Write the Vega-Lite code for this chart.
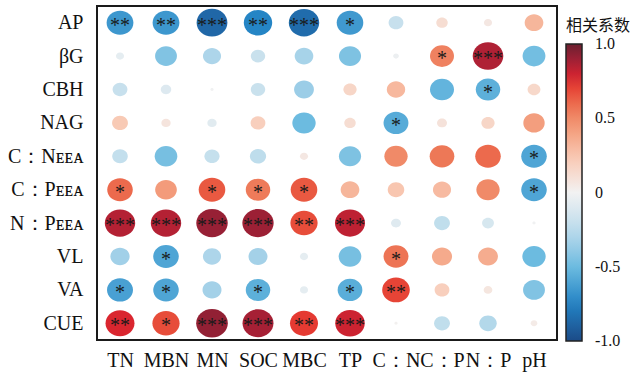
{
  "$schema": "https://vega.github.io/schema/vega-lite/v6.json",
  "width": 460,
  "height": 334,
  "autosize": "none",
  "padding": {"left": 97, "top": 6, "right": 87, "bottom": 34},
  "background": "white",
  "config": {"view": {"stroke": "#1a1a1a", "strokeWidth": 2}, "font": "Liberation Serif"},
  "data": {"values": [
    {"row": "AP", "col": "TN", "r": -0.66, "sig": "**"},
    {"row": "AP", "col": "MBN", "r": -0.66, "sig": "**"},
    {"row": "AP", "col": "MN", "r": -0.87, "sig": "***"},
    {"row": "AP", "col": "SOC", "r": -0.74, "sig": "**"},
    {"row": "AP", "col": "MBC", "r": -0.85, "sig": "***"},
    {"row": "AP", "col": "TP", "r": -0.65, "sig": "*"},
    {"row": "AP", "col": "C：N", "r": -0.2, "sig": ""},
    {"row": "AP", "col": "C：P", "r": 0.12, "sig": ""},
    {"row": "AP", "col": "N：P", "r": 0.06, "sig": ""},
    {"row": "AP", "col": "pH", "r": 0.32, "sig": ""},

    {"row": "βG", "col": "TN", "r": -0.06, "sig": ""},
    {"row": "βG", "col": "MBN", "r": -0.44, "sig": ""},
    {"row": "βG", "col": "MN", "r": -0.3, "sig": ""},
    {"row": "βG", "col": "SOC", "r": -0.19, "sig": ""},
    {"row": "βG", "col": "MBC", "r": -0.32, "sig": ""},
    {"row": "βG", "col": "TP", "r": -0.45, "sig": ""},
    {"row": "βG", "col": "C：N", "r": -0.03, "sig": ""},
    {"row": "βG", "col": "C：P", "r": 0.53, "sig": "*"},
    {"row": "βG", "col": "N：P", "r": 0.86, "sig": "***"},
    {"row": "βG", "col": "pH", "r": -0.48, "sig": ""},

    {"row": "CBH", "col": "TN", "r": -0.2, "sig": ""},
    {"row": "CBH", "col": "MBN", "r": -0.1, "sig": ""},
    {"row": "CBH", "col": "MN", "r": -0.01, "sig": ""},
    {"row": "CBH", "col": "SOC", "r": -0.19, "sig": ""},
    {"row": "CBH", "col": "MBC", "r": -0.36, "sig": ""},
    {"row": "CBH", "col": "TP", "r": 0.16, "sig": ""},
    {"row": "CBH", "col": "C：N", "r": 0.31, "sig": ""},
    {"row": "CBH", "col": "C：P", "r": -0.53, "sig": ""},
    {"row": "CBH", "col": "N：P", "r": -0.55, "sig": "*"},
    {"row": "CBH", "col": "pH", "r": 0.15, "sig": ""},

    {"row": "NAG", "col": "TN", "r": 0.23, "sig": ""},
    {"row": "NAG", "col": "MBN", "r": 0.08, "sig": ""},
    {"row": "NAG", "col": "MN", "r": -0.08, "sig": ""},
    {"row": "NAG", "col": "SOC", "r": 0.2, "sig": ""},
    {"row": "NAG", "col": "MBC", "r": -0.5, "sig": ""},
    {"row": "NAG", "col": "TP", "r": 0.12, "sig": ""},
    {"row": "NAG", "col": "C：N", "r": -0.57, "sig": "*"},
    {"row": "NAG", "col": "C：P", "r": 0.09, "sig": ""},
    {"row": "NAG", "col": "N：P", "r": 0.16, "sig": ""},
    {"row": "NAG", "col": "pH", "r": 0.42, "sig": ""},

    {"row": "C：Nᴇᴇᴀ", "col": "TN", "r": -0.22, "sig": ""},
    {"row": "C：Nᴇᴇᴀ", "col": "MBN", "r": -0.47, "sig": ""},
    {"row": "C：Nᴇᴇᴀ", "col": "MN", "r": -0.21, "sig": ""},
    {"row": "C：Nᴇᴇᴀ", "col": "SOC", "r": -0.24, "sig": ""},
    {"row": "C：Nᴇᴇᴀ", "col": "MBC", "r": 0.06, "sig": ""},
    {"row": "C：Nᴇᴇᴀ", "col": "TP", "r": -0.45, "sig": ""},
    {"row": "C：Nᴇᴇᴀ", "col": "C：N", "r": 0.5, "sig": ""},
    {"row": "C：Nᴇᴇᴀ", "col": "C：P", "r": 0.56, "sig": ""},
    {"row": "C：Nᴇᴇᴀ", "col": "N：P", "r": 0.6, "sig": ""},
    {"row": "C：Nᴇᴇᴀ", "col": "pH", "r": -0.6, "sig": "*"},

    {"row": "C：Pᴇᴇᴀ", "col": "TN", "r": 0.6, "sig": "*"},
    {"row": "C：Pᴇᴇᴀ", "col": "MBN", "r": 0.43, "sig": ""},
    {"row": "C：Pᴇᴇᴀ", "col": "MN", "r": 0.65, "sig": "*"},
    {"row": "C：Pᴇᴇᴀ", "col": "SOC", "r": 0.55, "sig": "*"},
    {"row": "C：Pᴇᴇᴀ", "col": "MBC", "r": 0.65, "sig": "*"},
    {"row": "C：Pᴇᴇᴀ", "col": "TP", "r": 0.32, "sig": ""},
    {"row": "C：Pᴇᴇᴀ", "col": "C：N", "r": 0.25, "sig": ""},
    {"row": "C：Pᴇᴇᴀ", "col": "C：P", "r": 0.3, "sig": ""},
    {"row": "C：Pᴇᴇᴀ", "col": "N：P", "r": 0.5, "sig": ""},
    {"row": "C：Pᴇᴇᴀ", "col": "pH", "r": -0.6, "sig": "*"},

    {"row": "N：Pᴇᴇᴀ", "col": "TN", "r": 0.85, "sig": "***"},
    {"row": "N：Pᴇᴇᴀ", "col": "MBN", "r": 0.85, "sig": "***"},
    {"row": "N：Pᴇᴇᴀ", "col": "MN", "r": 0.91, "sig": "***"},
    {"row": "N：Pᴇᴇᴀ", "col": "SOC", "r": 0.9, "sig": "***"},
    {"row": "N：Pᴇᴇᴀ", "col": "MBC", "r": 0.68, "sig": "**"},
    {"row": "N：Pᴇᴇᴀ", "col": "TP", "r": 0.83, "sig": "***"},
    {"row": "N：Pᴇᴇᴀ", "col": "C：N", "r": -0.09, "sig": ""},
    {"row": "N：Pᴇᴇᴀ", "col": "C：P", "r": -0.23, "sig": ""},
    {"row": "N：Pᴇᴇᴀ", "col": "N：P", "r": -0.13, "sig": ""},
    {"row": "N：Pᴇᴇᴀ", "col": "pH", "r": -0.01, "sig": ""},

    {"row": "VL", "col": "TN", "r": -0.34, "sig": ""},
    {"row": "VL", "col": "MBN", "r": -0.6, "sig": "*"},
    {"row": "VL", "col": "MN", "r": -0.3, "sig": ""},
    {"row": "VL", "col": "SOC", "r": -0.33, "sig": ""},
    {"row": "VL", "col": "MBC", "r": -0.06, "sig": ""},
    {"row": "VL", "col": "TP", "r": -0.47, "sig": ""},
    {"row": "VL", "col": "C：N", "r": 0.57, "sig": "*"},
    {"row": "VL", "col": "C：P", "r": 0.37, "sig": ""},
    {"row": "VL", "col": "N：P", "r": 0.36, "sig": ""},
    {"row": "VL", "col": "pH", "r": -0.5, "sig": ""},

    {"row": "VA", "col": "TN", "r": -0.62, "sig": "*"},
    {"row": "VA", "col": "MBN", "r": -0.6, "sig": "*"},
    {"row": "VA", "col": "MN", "r": -0.33, "sig": ""},
    {"row": "VA", "col": "SOC", "r": -0.55, "sig": "*"},
    {"row": "VA", "col": "MBC", "r": -0.06, "sig": ""},
    {"row": "VA", "col": "TP", "r": -0.56, "sig": "*"},
    {"row": "VA", "col": "C：N", "r": 0.7, "sig": "**"},
    {"row": "VA", "col": "C：P", "r": 0.2, "sig": ""},
    {"row": "VA", "col": "N：P", "r": 0.07, "sig": ""},
    {"row": "VA", "col": "pH", "r": -0.44, "sig": ""},

    {"row": "CUE", "col": "TN", "r": 0.77, "sig": "**"},
    {"row": "CUE", "col": "MBN", "r": 0.68, "sig": "*"},
    {"row": "CUE", "col": "MN", "r": 0.92, "sig": "***"},
    {"row": "CUE", "col": "SOC", "r": 0.88, "sig": "***"},
    {"row": "CUE", "col": "MBC", "r": 0.72, "sig": "**"},
    {"row": "CUE", "col": "TP", "r": 0.8, "sig": "***"},
    {"row": "CUE", "col": "C：N", "r": 0.01, "sig": ""},
    {"row": "CUE", "col": "C：P", "r": -0.23, "sig": ""},
    {"row": "CUE", "col": "N：P", "r": -0.28, "sig": ""},
    {"row": "CUE", "col": "pH", "r": 0.04, "sig": ""}
  ]},
  "encoding": {
    "x": {
      "field": "col", "type": "nominal",
      "sort": ["TN", "MBN", "MN", "SOC", "MBC", "TP", "C：N", "C：P", "N：P", "pH"],
      "axis": {"title": null, "orient": "bottom", "labelAngle": 0, "ticks": false, "domain": false, "grid": false,
               "labelFont": "Liberation Serif", "labelFontSize": 20, "labelColor": "#111", "labelPadding": 10,
               "labelBaseline": "top", "labelOverlap": false, "labelFlush": false}
    },
    "y": {
      "field": "row", "type": "nominal",
      "sort": ["AP", "βG", "CBH", "NAG", "C：Nᴇᴇᴀ", "C：Pᴇᴇᴀ", "N：Pᴇᴇᴀ", "VL", "VA", "CUE"],
      "axis": {"title": null, "ticks": false, "domain": false, "grid": false,
               "labelFont": "Liberation Serif", "labelFontSize": 20, "labelColor": "#111", "labelPadding": 14,
               "labelOverlap": false, "labelLimit": 200}
    }
  },
  "layer": [
    {
      "mark": {"type": "point", "filled": true, "opacity": 1, "strokeWidth": 0,
               "shape": "M-1,0A1,0.9,0,1,1,1,0A1,0.9,0,1,1,-1,0Z"},
      "encoding": {
        "color": {
          "field": "r", "type": "quantitative",
          "scale": {"type": "linear",
                    "domain": [-1, -0.75, -0.5, -0.25, 0, 0.25, 0.5, 0.75, 1],
                    "range": ["#1b4b87", "#2283c4", "#6cbbe0", "#bcdcec", "#f2f2f2", "#f8c6b0", "#f08a68", "#e3282c", "#6b2030"]},
          "legend": {
            "title": "相关系数", "orient": "none", "legendX": 469, "legendY": 12, "direction": "vertical",
            "gradientLength": 297, "gradientThickness": 16, "gradientStrokeColor": "#222", "gradientStrokeWidth": 1.5,
            "values": [-0.999, -0.5, 0, 0.5, 0.999],
            "labelExpr": "datum.value == 0 ? '0' : (datum.value < 0 ? '-' : '') + format(abs(datum.value), '.1f')",
            "labelFont": "Liberation Serif", "labelFontSize": 16, "labelColor": "#111", "labelOffset": 13,
            "labelOverlap": false,
            "titleFont": "Noto Sans CJK SC", "titleFontSize": 16, "titleFontWeight": "normal", "titleColor": "#111",
            "titlePadding": 10, "titleBaseline": "top", "padding": 0
          }
        },
        "size": {
          "field": "r", "type": "quantitative",
          "scale": {"type": "linear", "domain": [-1, 0, 1], "range": [1089, 0, 1089]},
          "legend": null
        }
      }
    },
    {
      "mark": {"type": "text", "font": "Liberation Serif", "fontSize": 20, "baseline": "alphabetic", "dy": 9, "color": "#1a1a1a"},
      "encoding": {"text": {"field": "sig", "type": "nominal"}}
    }
  ]
}
